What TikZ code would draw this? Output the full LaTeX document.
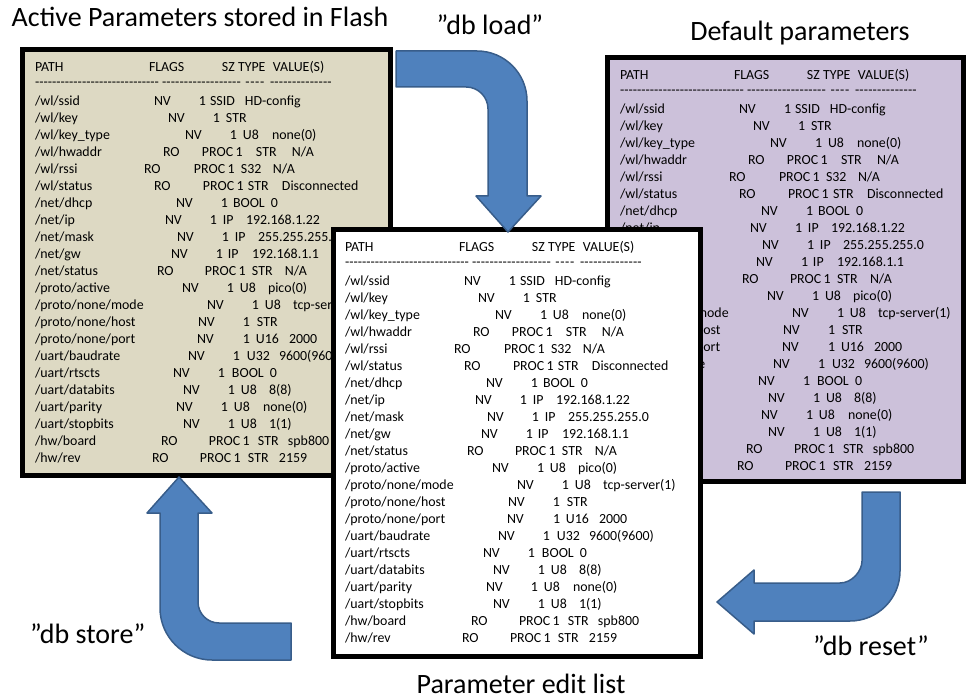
\documentclass[tikz,border=0pt]{standalone}
\usepackage{fontspec}
\setmainfont{Carlito}
\definecolor{tanbg}{HTML}{DDD9C3}
\definecolor{lavbg}{HTML}{CCC1DA}
\definecolor{arrowfill}{HTML}{4F81BD}
\definecolor{arrowline}{HTML}{385D8A}
\newcommand\Seg[2]{\makebox[0pt][l]{\hspace*{#1pt}#2}}
\newcommand\Row[9]{\hbox to 330pt{\Seg{0}{#1}\Seg{#2}{#3}\Seg{#4}{#5}\Seg{#6}{#7}\Seg{#8}{#9}\hfil}}
\newcommand\Dash[1]{\hbox to #1pt{\xleaders\hbox{-}\hfil}}
\newcommand\ParamTable{%
\vtop{\fontsize{13.9pt}{17pt}\selectfont\baselineskip=17pt
\Row{PATH}{114}{FLAGS}{187}{SZ TYPE}{238}{VALUE(S)}{0}{}
\vskip-2pt
\hbox to 330pt{\Seg{0}{\Dash{124}}\Seg{127}{\Dash{79}}\Seg{210}{\Dash{20}}\Seg{235}{\Dash{62}}\hfil}
\vskip2pt
\Row{/wl/ssid}{119}{NV}{164}{1}{175}{SSID}{210}{HD-config}
\Row{/wl/key}{133}{NV}{178}{1}{191}{STR}{0}{}
\Row{/wl/key\_type}{150}{NV}{195}{1}{208}{U8}{237}{none(0)}
\Row{/wl/hwaddr}{128}{RO}{167}{PROC\,1}{221}{STR}{257}{N/A}
\Row{/wl/rssi}{109}{RO}{159}{PROC\,1}{206}{S32}{238}{N/A}
\Row{/wl/status}{119}{RO}{168}{PROC\,1}{213}{STR}{247}{Disconnected}
\Row{/net/dhcp}{141}{NV}{186}{1}{198}{BOOL}{236}{0}
\Row{/net/ip}{130}{NV}{175}{1}{188}{IP}{211}{192.168.1.22}
\Row{/net/mask}{142}{NV}{187}{1}{200}{IP}{223}{255.255.255.0}
\Row{/net/gw}{136}{NV}{181}{1}{193}{IP}{217}{192.168.1.1}
\Row{/net/status}{122}{RO}{170}{PROC\,1}{217}{STR}{250}{N/A}
\Row{/proto/active}{147}{NV}{192}{1}{205}{U8}{233}{pico(0)}
\Row{/proto/none/mode}{172}{NV}{217}{1}{230}{U8}{258}{tcp-server(1)}
\Row{/proto/none/host}{163}{NV}{208}{1}{222}{STR}{0}{}
\Row{/proto/none/port}{162}{NV}{208}{1}{221}{U16}{254}{2000}
\Row{/uart/baudrate}{153}{NV}{198}{1}{212}{U32}{244}{9600(9600)}
\Row{/uart/rtscts}{138}{NV}{183}{1}{197}{BOOL}{235}{0}
\Row{/uart/databits}{148}{NV}{193}{1}{206}{U8}{234}{8(8)}
\Row{/uart/parity}{141}{NV}{186}{1}{199}{U8}{228}{none(0)}
\Row{/uart/stopbits}{148}{NV}{193}{1}{206}{U8}{234}{1(1)}
\Row{/hw/board}{126}{RO}{174}{PROC\,1}{223}{STR}{253}{spb800}
\Row{/hw/rev}{117}{RO}{165}{PROC\,1}{213}{STR}{244}{2159}
}}
\begin{document}
\begin{tikzpicture}[x=1pt,y=-1pt,
  panel/.style={draw=black, line width=5pt, rectangle, inner sep=0pt, outer sep=0pt, anchor=north west},
  table/.style={anchor=base west, inner sep=0pt, outer sep=0pt},
  title/.style={font=\fontsize{28pt}{33pt}\selectfont, inner sep=0pt},
  bigarrow/.style={fill=arrowfill, draw=arrowline, line width=1.5pt, line join=round}]
\useasboundingbox (0,0) rectangle (966,700);
% left panel
\node[panel, fill=tanbg, minimum width=368pt, minimum height=425pt] (L) at (22,50) {};
\node[table] (Ltab) at ([shift={(13,21.5)}]L.north west) {\ParamTable};
% right panel
\node[panel, fill=lavbg, minimum width=356pt, minimum height=423pt] (R) at (607,58) {};
\node[table] (Rtab) at ([shift={(13,21.5)}]R.north west) {\ParamTable};
% center panel
\node[panel, fill=white, minimum width=367pt, minimum height=426pt] (C) at (333,230) {};
\node[table] (Ctab) at ([shift={(12,21.5)}]C.north west) {\ParamTable};
% db load arrow
\draw[bigarrow] (396,51) -- (477,51) .. controls (504.6,51) and (527,73.4) .. (527,101)
  -- (527,196) -- (541,196) -- (508,232) -- (476,196) -- (488,196) -- (488,109)
  .. controls (488,96.8) and (478.2,87) .. (466,87) -- (396,87) -- cycle;
% db reset arrow
\draw[bigarrow] (862,492) -- (900,492) -- (900,571) .. controls (900,598.6) and (877.6,621) .. (850,621)
  -- (754,621) -- (754,634) -- (717,602) -- (754,570) -- (754,583) -- (840,583)
  .. controls (852.2,583) and (862,570.8) .. (862,561) -- cycle;
% db store arrow
\draw[bigarrow] (179,477) -- (212,513) -- (198,513) -- (198,602) .. controls (198,613.6) and (207.4,623) .. (219,623)
  -- (291,623) -- (291,660) -- (212,660) .. controls (183.3,660) and (160,636.7) .. (160,608)
  -- (160,513) -- (147,513) -- cycle;
% titles
\node[title, anchor=base] (tflash) at (200,27) {Active Parameters stored in Flash};
\node[title, anchor=base] (tload) at (490,35) {”db load”};
\node[title, anchor=base] (tdefault) at (800,41) {Default parameters};
\node[title, anchor=base] (tedit) at (521,693) {Parameter edit list};
\node[title, anchor=base west] (tstore) at (30,643) {”db store”};
\node[title, anchor=base west] (treset) at (813,655) {”db reset”};
\end{tikzpicture}
\end{document}
